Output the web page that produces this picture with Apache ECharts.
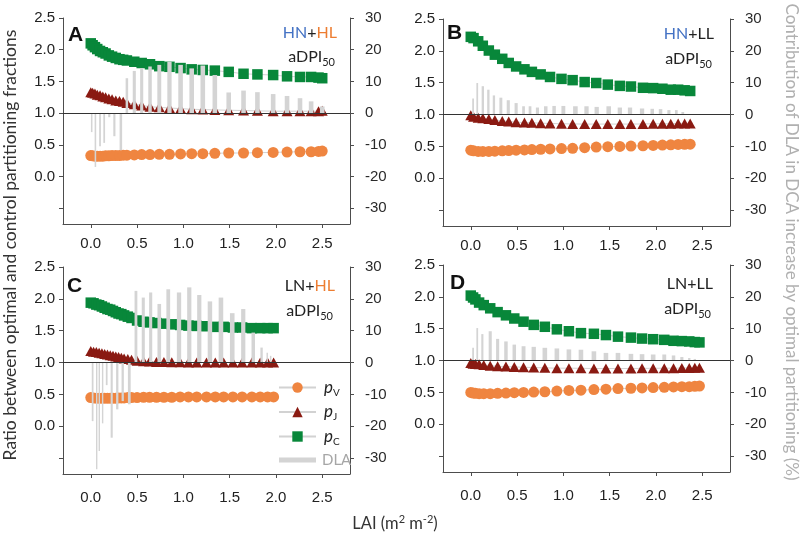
<!DOCTYPE html>
<html><head><meta charset="utf-8">
<script src="https://cdn.jsdelivr.net/npm/echarts@6/dist/echarts.min.js"></script>
<style>html,body{margin:0;padding:0;background:#fff}#c{width:800px;height:536px}</style>
</head><body><div id="c"></div>
<script>
// ---------------- data ----------------
// Panel A : HN+HL
const laiA = [0.00, 0.02, 0.045, 0.07, 0.10, 0.13, 0.16, 0.195, 0.23, 0.27, 0.31, 0.35, 0.39, 0.47, 0.55, 0.64, 0.74, 0.85, 0.97, 1.09, 1.21, 1.34, 1.49, 1.65, 1.80, 1.97, 2.12, 2.26, 2.38, 2.46, 2.50];
const pvA = [0.33, 0.325, 0.32, 0.32, 0.32, 0.32, 0.325, 0.325, 0.33, 0.33, 0.33, 0.335, 0.335, 0.34, 0.345, 0.345, 0.35, 0.35, 0.355, 0.36, 0.36, 0.365, 0.37, 0.37, 0.375, 0.38, 0.385, 0.39, 0.39, 0.395, 0.40];
const pjA = [1.33, 1.32, 1.31, 1.29, 1.28, 1.26, 1.25, 1.23, 1.22, 1.20, 1.19, 1.18, 1.16, 1.14, 1.12, 1.10, 1.09, 1.08, 1.07, 1.06, 1.055, 1.05, 1.045, 1.04, 1.035, 1.03, 1.03, 1.03, 1.03, 1.03, 1.035];
const pcA = [2.10, 2.07, 2.04, 2.01, 1.98, 1.96, 1.94, 1.91, 1.89, 1.87, 1.85, 1.84, 1.83, 1.81, 1.79, 1.77, 1.74, 1.73, 1.71, 1.69, 1.68, 1.67, 1.65, 1.62, 1.61, 1.60, 1.58, 1.57, 1.57, 1.56, 1.55];
const dlaLaiA = [0.01, 0.05, 0.10, 0.145, 0.20, 0.255, 0.325, 0.39, 0.47, 0.55, 0.64, 0.74, 0.85, 0.97, 1.09, 1.21, 1.34, 1.49, 1.65, 1.80, 1.97, 2.12, 2.26, 2.38, 2.50];
const dlaA = [-6, -17, -10.5, -9.4, -1.3, -7.3, -11.7, 11.0, 13.3, 14.1, 14.7, 15.2, 16.2, 15.2, 14.1, 15.0, 12.0, 6.5, 7.1, 6.6, 6.0, 5.4, 4.7, 3.7, 2.1];

// Panel B : HN+LL
const laiB = [0, 0.03, 0.08, 0.13, 0.195, 0.26, 0.34, 0.41, 0.49, 0.58, 0.66, 0.755, 0.856, 0.98, 1.10, 1.23, 1.355, 1.48, 1.61, 1.73, 1.86, 1.97, 2.07, 2.16, 2.24, 2.31, 2.37];
const pvB = [0.44, 0.43, 0.42, 0.42, 0.42, 0.425, 0.43, 0.435, 0.44, 0.445, 0.45, 0.455, 0.46, 0.465, 0.47, 0.48, 0.49, 0.495, 0.50, 0.505, 0.51, 0.515, 0.52, 0.525, 0.53, 0.533, 0.535];
const pjB = [0.99, 0.965, 0.95, 0.94, 0.93, 0.915, 0.90, 0.89, 0.88, 0.875, 0.87, 0.865, 0.86, 0.855, 0.853, 0.85, 0.85, 0.85, 0.85, 0.85, 0.852, 0.855, 0.855, 0.857, 0.858, 0.86, 0.86];
const pcB = [2.22, 2.20, 2.15, 2.08, 2.005, 1.94, 1.875, 1.81, 1.755, 1.71, 1.67, 1.63, 1.59, 1.56, 1.54, 1.51, 1.495, 1.47, 1.45, 1.44, 1.42, 1.415, 1.405, 1.39, 1.39, 1.38, 1.37];
const dlaLaiB = [0.025, 0.07, 0.13, 0.19, 0.25, 0.325, 0.405, 0.49, 0.57, 0.64, 0.72, 0.81, 0.90, 1.00, 1.13, 1.25, 1.36, 1.49, 1.61, 1.72, 1.85, 1.96, 2.05, 2.14, 2.22, 2.29];
const dlaB = [5.0, 9.9, 8.9, 7.8, 6.0, 5.3, 4.5, 3.6, 2.6, 2.6, 2.2, 2.6, 2.7, 2.7, 2.6, 2.6, 2.4, 2.6, 2.2, 2.2, 1.9, 1.8, 1.7, 1.4, 1.4, 0.8];

// Panel C : LN+HL
const laiC = [0, 0.03, 0.06, 0.09, 0.12, 0.15, 0.18, 0.21, 0.24, 0.27, 0.30, 0.33, 0.36, 0.40, 0.44, 0.50, 0.57, 0.635, 0.71, 0.79, 0.875, 0.965, 1.055, 1.145, 1.25, 1.345, 1.435, 1.535, 1.635, 1.74, 1.83, 1.91, 1.975];
const pvC = [0.45, 0.445, 0.44, 0.44, 0.44, 0.44, 0.44, 0.44, 0.44, 0.44, 0.445, 0.445, 0.445, 0.45, 0.45, 0.45, 0.455, 0.455, 0.455, 0.455, 0.455, 0.46, 0.46, 0.46, 0.46, 0.46, 0.46, 0.46, 0.46, 0.46, 0.46, 0.46, 0.46];
const pjC = [1.18, 1.17, 1.165, 1.155, 1.145, 1.135, 1.125, 1.115, 1.105, 1.095, 1.085, 1.075, 1.065, 1.055, 1.045, 1.03, 1.02, 1.015, 1.01, 1.01, 1.005, 1.005, 1.0, 1.0, 1.0, 1.0, 1.0, 1.0, 1.0, 1.0, 1.0, 1.0, 1.0];
const pcC = [1.94, 1.93, 1.91, 1.90, 1.88, 1.86, 1.84, 1.83, 1.81, 1.79, 1.77, 1.76, 1.74, 1.72, 1.70, 1.66, 1.64, 1.63, 1.62, 1.61, 1.60, 1.59, 1.58, 1.575, 1.57, 1.56, 1.56, 1.55, 1.55, 1.54, 1.54, 1.54, 1.54];
const dlaLaiC = [0.02, 0.064, 0.092, 0.128, 0.172, 0.226, 0.286, 0.345, 0.416, 0.488, 0.567, 0.647, 0.74, 0.837, 0.953, 1.064, 1.172, 1.287, 1.406, 1.528, 1.647, 1.755, 1.845, 1.906, 1.943];
const dlaC = [-18.4, -33.5, -27.8, -19.1, -7.1, -23.6, -14.7, -12.1, -13.1, 22.5, 20.4, 22.0, 18.4, 23.0, 22.0, 23.6, 21.2, 19.2, 20.4, 15.5, 16.8, 9.4, 4.7, 3.1, 2.1];

// Panel D : LN+LL
const laiD = [0, 0.025, 0.05, 0.09, 0.14, 0.21, 0.29, 0.38, 0.47, 0.57, 0.68, 0.80, 0.93, 1.06, 1.19, 1.33, 1.46, 1.59, 1.73, 1.85, 1.97, 2.09, 2.19, 2.28, 2.36, 2.42, 2.47];
const pvD = [0.50, 0.49, 0.485, 0.48, 0.48, 0.48, 0.485, 0.49, 0.495, 0.50, 0.505, 0.51, 0.52, 0.53, 0.535, 0.545, 0.55, 0.56, 0.565, 0.57, 0.575, 0.58, 0.585, 0.59, 0.59, 0.595, 0.60];
const pjD = [0.96, 0.95, 0.945, 0.94, 0.93, 0.92, 0.91, 0.905, 0.90, 0.895, 0.89, 0.885, 0.88, 0.88, 0.878, 0.875, 0.875, 0.875, 0.875, 0.877, 0.878, 0.88, 0.88, 0.882, 0.883, 0.885, 0.885];
const pcD = [2.02, 1.99, 1.96, 1.91, 1.87, 1.82, 1.76, 1.71, 1.66, 1.61, 1.56, 1.53, 1.49, 1.46, 1.43, 1.42, 1.40, 1.375, 1.36, 1.345, 1.335, 1.325, 1.31, 1.305, 1.30, 1.29, 1.285];
const dlaLaiD = [0.025, 0.07, 0.125, 0.21, 0.29, 0.38, 0.47, 0.57, 0.68, 0.80, 0.93, 1.06, 1.19, 1.33, 1.46, 1.59, 1.73, 1.85, 1.97, 2.09, 2.19, 2.28, 2.36, 2.42];
const dlaD = [4.0, 10.2, 8.3, 9.2, 6.8, 6.0, 5.0, 4.5, 4.3, 4.0, 3.8, 3.5, 3.4, 2.9, 2.4, 2.4, 2.1, 2.0, 1.9, 1.9, 1.6, 1.1, 0.8, 0.5];

// ticks / labels
const xTickValues = [0, 0.5, 1, 1.5, 2, 2.5];
const leftTickValues = [-0.5, 0, 0.5, 1, 1.5, 2, 2.5];
const leftLabelValues = [0, 0.5, 1, 1.5, 2, 2.5];
const rightTickValues = [-30, -20, -10, 0, 10, 20, 30];
const panelLetters = ['A', 'B', 'C', 'D'];
const nitrogen = ['HN', 'HN', 'LN', 'LN'];
const light = ['HL', 'LL', 'HL', 'LL'];

// ---------------- style ----------------
const ORANGE = '#EF8540', DARKRED = '#8A1A12', GREEN = '#08873A', BARGRAY = '#D4D4D4';
const BLUE_T = '#4472C4', ORANGE_T = '#ED7D31';
const AXIS = '#4d4d4d';
const TICKFONT = 'Liberation Sans, Arial, sans-serif';
const TXTFONT = 'Lato, Open Sans, sans-serif';

const panels = [
  {lai: laiA, pv: pvA, pj: pjA, pc: pcA, dx: dlaLaiA, dv: dlaA},
  {lai: laiB, pv: pvB, pj: pjB, pc: pcB, dx: dlaLaiB, dv: dlaB},
  {lai: laiC, pv: pvC, pj: pjC, pc: pcC, dx: dlaLaiC, dv: dlaC},
  {lai: laiD, pv: pvD, pj: pjD, pc: pcD, dx: dlaLaiD, dv: dlaD}
];
const gridPos = [
  {left: 63, top: 18, width: 287, height: 206},
  {left: 443, top: 19, width: 287, height: 207},
  {left: 63, top: 267, width: 287, height: 207},
  {left: 443, top: 265, width: 287, height: 207}
];
const xLabelMargin = [12, 12, 16, 16];

const zip = (a, b) => a.map((v, i) => [v, b[i]]);

function barRenderer(xs) {
  return function (params, api) {
    const i = params.dataIndex;
    const x = api.value(0), v = api.value(1);
    const base = api.coord([x, 0]);
    const top = api.coord([x, v]);
    let gap = Infinity;
    if (i > 0) gap = Math.min(gap, base[0] - api.coord([xs[i - 1], 0])[0]);
    if (i < xs.length - 1) gap = Math.min(gap, api.coord([xs[i + 1], 0])[0] - base[0]);
    const w = Math.max(1.4, Math.min(4.6, gap * 0.42));
    return {
      type: 'rect',
      shape: {x: base[0] - w / 2, y: Math.min(base[1], top[1]), width: w, height: Math.abs(top[1] - base[1])},
      style: {fill: BARGRAY}
    };
  };
}

const grids = [], xAxes = [], yAxes = [], series = [], graphics = [];
panels.forEach((p, g) => {
  grids.push(Object.assign({outerBoundsMode: 'none', containLabel: false}, gridPos[g]));
  xAxes.push({
    gridIndex: g, type: 'value', min: -0.3, max: 2.8,
    axisLine: {show: true, onZero: false, lineStyle: {color: AXIS, width: 1}},
    axisTick: {show: true, length: 4, inside: false, customValues: xTickValues, lineStyle: {color: AXIS}},
    axisLabel: {customValues: xTickValues, formatter: v => v.toFixed(1), fontSize: 15, color: '#222', fontFamily: TICKFONT, margin: xLabelMargin[g]},
    splitLine: {show: false}
  });
  yAxes.push({
    gridIndex: g, type: 'value', position: 'left', min: -0.75, max: 2.5,
    axisLine: {show: true, onZero: false, lineStyle: {color: AXIS, width: 1}},
    axisTick: {show: true, length: 4, customValues: leftTickValues, lineStyle: {color: AXIS}},
    axisLabel: {customValues: leftLabelValues, formatter: v => v.toFixed(1), fontSize: 15, color: '#222', fontFamily: TICKFONT, margin: 8},
    splitLine: {show: false}
  });
  yAxes.push({
    gridIndex: g, type: 'value', position: 'right', min: -35, max: 30,
    axisLine: {show: true, onZero: false, lineStyle: {color: AXIS, width: 1}},
    axisTick: {show: true, length: 4, customValues: rightTickValues, lineStyle: {color: AXIS}},
    axisLabel: {customValues: rightTickValues, formatter: v => String(v), fontSize: 15, color: '#2a2a2a', fontFamily: TICKFONT, margin: 15, align: 'left'},
    splitLine: {show: false}
  });
  const common = {type: 'line', xAxisIndex: g, yAxisIndex: 2 * g, showSymbol: true, symbolSize: 10,
    lineStyle: {color: '#d2d2d2', width: 1}, animation: false, z: 2, emphasis: {disabled: true}};
  series.push(Object.assign({}, common, {name: 'pV', symbol: 'circle', symbolSize: 11, data: zip(p.lai, p.pv), itemStyle: {color: ORANGE},
    markLine: {silent: true, symbol: ['none', 'none'], label: {show: false}, animation: false,
      lineStyle: {color: '#333', width: 1, type: 'solid'}, data: [{yAxis: 1}]}}));
  series.push(Object.assign({}, common, {name: 'pJ', symbol: 'triangle', symbolSize: [11, 10], data: zip(p.lai, p.pj), itemStyle: {color: DARKRED}}));
  series.push(Object.assign({}, common, {name: 'pC', symbol: 'rect', symbolSize: 10.5, data: zip(p.lai, p.pc), itemStyle: {color: GREEN}}));
  series.push({type: 'custom', name: 'DLA', xAxisIndex: g, yAxisIndex: 2 * g + 1, z: 3, animation: false,
    itemStyle: {color: BARGRAY}, data: zip(p.dx, p.dv), renderItem: barRenderer(p.dx)});
});

// panel letters & condition labels
const letterPos = [[68, 35], [447, 33], [67, 286], [450, 283]];
const condPos = [[337, 33, 57], [714, 34, 59], [335, 286, 311], [713, 284, 309]];
const nColor = n => n === 'HN' ? BLUE_T : '#222';
const lColor = l => l === 'HL' ? ORANGE_T : '#222';
panelLetters.forEach((L, g) => {
  graphics.push({type: 'text', x: letterPos[g][0], y: letterPos[g][1],
    style: {text: L, font: 'bold 21px ' + TICKFONT, fill: '#111', align: 'left', verticalAlign: 'middle'}});
  graphics.push({type: 'text', x: condPos[g][0], y: condPos[g][1],
    style: {text: '{n|' + nitrogen[g] + '}{k|+}{l|' + light[g] + '}', align: 'right', verticalAlign: 'middle',
      rich: {n: {fill: nColor(nitrogen[g]), fontSize: 16, fontFamily: TXTFONT},
             k: {fill: '#222', fontSize: 16, fontFamily: TXTFONT},
             l: {fill: lColor(light[g]), fontSize: 16, fontFamily: TXTFONT}}}});
  graphics.push({type: 'text', x: condPos[g][0] - 2, y: condPos[g][2],
    style: {text: '{m|aDPI}{s|50}', align: 'right', verticalAlign: 'middle',
      rich: {m: {fill: '#222', fontSize: 16, fontFamily: TXTFONT, lineHeight: 22, verticalAlign: 'middle'},
             s: {fill: '#222', fontSize: 11, fontFamily: TXTFONT, lineHeight: 11, verticalAlign: 'bottom'}}}});
});

// axis titles
graphics.push({type: 'text', x: 10, y: 245, rotation: Math.PI / 2,
  style: {text: 'Ratio between optimal and control partitioning fractions', fontSize: 17.5, fontFamily: TXTFONT, fill: '#333', align: 'center', verticalAlign: 'middle'}});
graphics.push({type: 'text', x: 791, y: 242, rotation: -Math.PI / 2,
  style: {text: 'Contribution of DLA in DCA increase by optimal partitioning (%)', fontSize: 17, fontFamily: TXTFONT, fill: '#b0b0b0', align: 'center', verticalAlign: 'middle'}});
graphics.push({type: 'text', x: 395, y: 524,
  style: {text: '{t|LAI (m}{u|2}{t| m}{u|-2}{t|)}', align: 'center', verticalAlign: 'middle',
    rich: {t: {fill: '#333', fontSize: 16.5, fontFamily: TXTFONT, lineHeight: 20, verticalAlign: 'middle'},
           u: {fill: '#333', fontSize: 11, fontFamily: TXTFONT, lineHeight: 11, verticalAlign: 'top'}}}});

const chart = echarts.init(document.getElementById('c'), null, {renderer: 'canvas'});
chart.setOption({
  animation: false,
  backgroundColor: '#fff',
  grid: grids, xAxis: xAxes, yAxis: yAxes, series: series,
  legend: {
    orient: 'vertical', left: 273, top: 374, itemWidth: 37, itemHeight: 13, itemGap: 6,
    selectedMode: false,
    data: [
      {name: 'pV'}, {name: 'pJ'}, {name: 'pC'},
      {name: 'DLA', icon: 'path://M0,0M0,4h37v5h-37zM37,13', itemStyle: {color: BARGRAY}}
    ],
    formatter: n => n === 'DLA' ? '{d|DLA}' : '{p|p}{s|' + n.slice(1) + '}',
    textStyle: {
      rich: {
        p: {fontStyle: 'italic', fontSize: 17, fontFamily: TXTFONT, color: '#222', lineHeight: 20, verticalAlign: 'middle', padding: [0, 0, 0, 3]},
        s: {fontSize: 10, fontFamily: TXTFONT, color: '#222', lineHeight: 10, verticalAlign: 'bottom'},
        d: {fontSize: 15, fontFamily: TXTFONT, color: '#a6a6a6', lineHeight: 20, padding: [0, 0, 0, 1]}
      }
    }
  },
  graphic: graphics
});
</script>
</body></html>
